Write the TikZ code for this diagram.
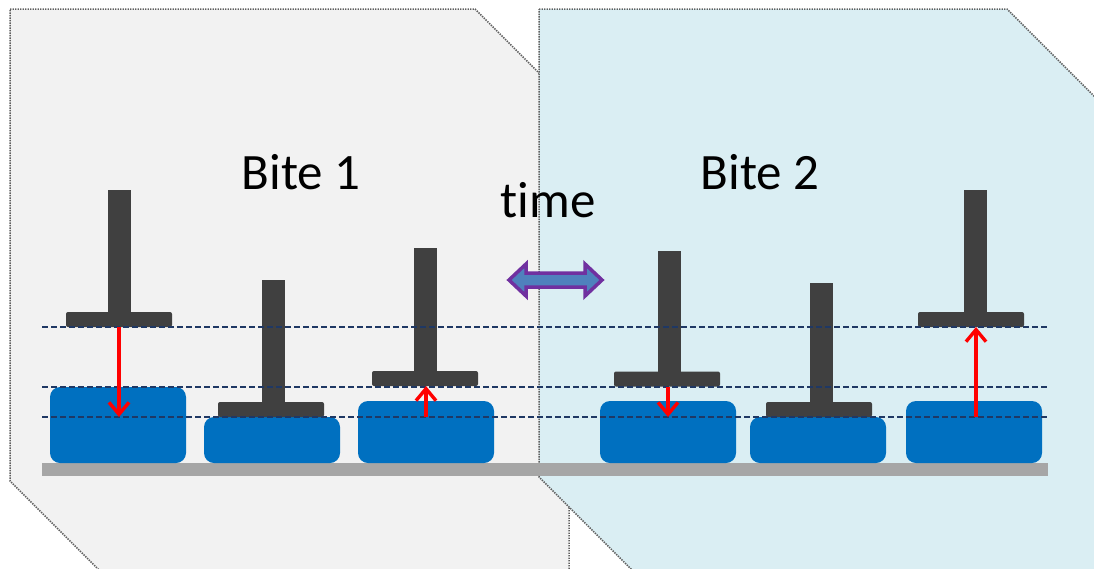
\documentclass[tikz,border=0pt]{standalone}
\usepackage{fontspec}
\setmainfont{Carlito}[Ligatures=NoCommon]
\usetikzlibrary{arrows.meta}
\definecolor{panelA}{HTML}{F2F2F2}
\definecolor{panelB}{HTML}{DAEEF3}
\definecolor{edgegray}{HTML}{5F5F5F}
\definecolor{blockblue}{HTML}{0070C0}
\definecolor{plungergray}{HTML}{404040}
\definecolor{groundgray}{HTML}{A6A6A6}
\definecolor{navyline}{HTML}{1F3864}
\definecolor{arrowpurple}{HTML}{7030A0}
\definecolor{arrowfill}{HTML}{4F81BD}
\begin{document}
\begin{tikzpicture}[x=1pt,y=-1pt,
  panel/.style={draw=edgegray, line width=1.5pt, dash pattern=on 1.4pt off 1.1pt},
  blockbox/.style={fill=blockblue, rounded corners=10pt, minimum width=136pt, inner sep=0pt, outer sep=0pt},
  plate/.style={fill=plungergray, rounded corners=2pt, minimum width=106pt, minimum height=15pt, inner sep=0pt, outer sep=0pt},
  stem/.style={fill=plungergray},
  level/.style={draw=navyline, line width=1.5pt, dash pattern=on 6pt off 3pt},
  move/.style={draw=red, line width=3.4pt, -{Straight Barb[length=12pt,width=20pt]}},
  label/.style={font=\fontsize{51}{60}\selectfont, anchor=base, inner sep=0pt}
]
\useasboundingbox (0,0) rectangle (1094,568);
\clip (0,0) rectangle (1094,568);

% panels
\fill[panelA] (10,9) -- (475,9) -- (569,103) -- (569,575) -- (104,575) -- (10,481) -- cycle;
\draw[panel] (10,9) -- (475,9) -- (569,103) -- (569,575) -- (104,575) -- (10,481) -- cycle;
\fill[panelB] (539,9) -- (1007,9) -- (1101,103) -- (1101,575) -- (637,575) -- (539,477) -- cycle;
\draw[panel] (539,9) -- (1007,9) -- (1101,103) -- (1101,575) -- (637,575) -- (539,477) -- cycle;

% ground
\fill[groundgray] (42,463) rectangle (1048,476);

% blocks
\node[blockbox, minimum height=76pt] (b1) at (118,425) {};
\node[blockbox, minimum height=46pt] (b2) at (272,440) {};
\node[blockbox, minimum height=62pt] (b3) at (426,432) {};
\node[blockbox, minimum height=62pt] (b4) at (668,432) {};
\node[blockbox, minimum height=46pt] (b5) at (818,440) {};
\node[blockbox, minimum height=62pt] (b6) at (974,432) {};

% plungers
\fill[stem] (108,190) rectangle (131,313);
\node[plate] (p1) at (119,319.5) {};
\fill[stem] (262,280) rectangle (285,403);
\node[plate] (p2) at (271,409.5) {};
\fill[stem] (414,248) rectangle (437,372);
\node[plate] (p3) at (425,378.5) {};
\fill[stem] (658,251) rectangle (681,372);
\node[plate] (p4) at (667,379) {};
\fill[stem] (810,283) rectangle (833,403);
\node[plate] (p5) at (819,409.5) {};
\fill[stem] (964,190) rectangle (987,313);
\node[plate] (p6) at (971,319.5) {};

% level lines
\coordinate (l1a) at (42,327); \coordinate (l1b) at (1048,327);
\coordinate (l2a) at (42,387); \coordinate (l2b) at (1048,387);
\coordinate (l3a) at (42,417); \coordinate (l3b) at (1048,417);
\draw[level] (l1a) -- (l1b);
\draw[level] (l2a) -- (l2b);
\draw[level] (l3a) -- (l3b);

% red displacement arrows
\coordinate (e1) at (119,417);
\coordinate (s3) at (426,417);
\coordinate (e3) at (426,386);
\coordinate (e4) at (668,417);
\coordinate (s6) at (976,417);
\coordinate (e6) at (976,327);
\draw[move] (p1.south) -- (e1);
\draw[move] (s3) -- (e3);
\draw[move] (p4.south -| e4) -- (e4);
\draw[move] (s6) -- (e6);

% time arrow
\draw[arrowpurple, fill=arrowfill, line width=3.5pt, line join=miter]
  (509,280) -- (526,264) -- (526,273) -- (585,273) -- (585,264) -- (602,280)
  -- (585,296) -- (585,287) -- (526,287) -- (526,296) -- cycle;

% labels
\node[label] (bite1) at (301,189) {Bite 1};
\node[label] (bite2) at (760,189) {Bite 2};
\node[label] (time) at (548,217) {time};
\end{tikzpicture}
\end{document}
